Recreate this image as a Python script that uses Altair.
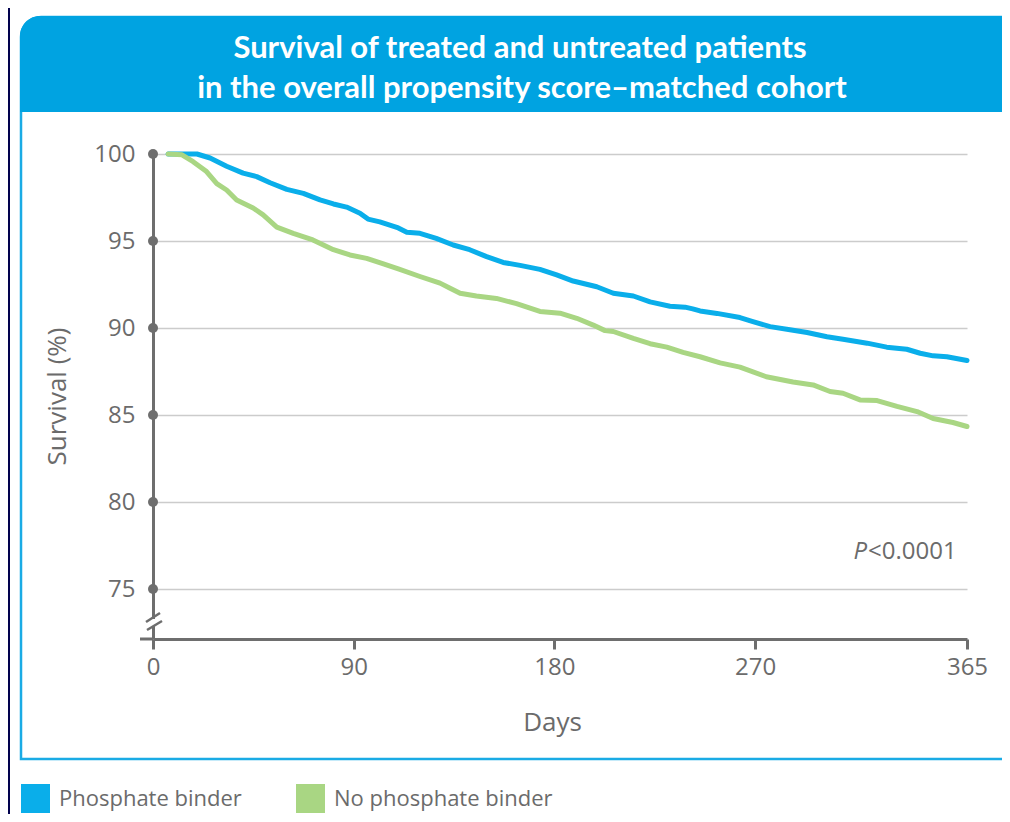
import altair as alt
import pandas as pd

# ---------------- data ----------------
series_names = ["Phosphate binder", "No phosphate binder"]
series_colors = ["#0AAEEA", "#A9D683"]

days_pb = [6.8, 19.7, 25.6, 33, 40.4, 46.5, 52.5, 60, 67.4, 74.9, 80.9, 86.8, 92.8, 96.4,
           101.7, 110, 113.8, 119.7, 127, 134.6, 142, 149.6, 157, 164.6, 173.5, 181, 188.4,
           199, 206.4, 215.4, 222.9, 231.8, 238.6, 242, 245.3, 252.9, 263.2, 269, 276.7,
           285.6, 293.3, 302.2, 309.4, 320.2, 329, 338, 344, 349.8, 356, 365]
surv_pb = [100, 100, 99.77, 99.3, 98.9, 98.7, 98.35, 97.97, 97.74, 97.36, 97.13, 96.95, 96.6,
           96.26, 96.1, 95.75, 95.5, 95.44, 95.15, 94.77, 94.5, 94.1, 93.77, 93.6, 93.37,
           93.05, 92.7, 92.37, 92.0, 91.84, 91.5, 91.25, 91.2, 91.1, 90.98, 90.84, 90.6,
           90.37, 90.08, 89.9, 89.74, 89.5, 89.36, 89.13, 88.9, 88.78, 88.55, 88.4, 88.35, 88.13]

days_npb = [6.8, 13, 18, 24, 28.6, 33, 37.5, 44.9, 49.4, 55.5, 62.9, 71.7, 80.9, 88.3, 95.8,
            103, 110, 119.7, 128.7, 133, 137.7, 145, 154, 163, 173.5, 182.5, 190, 197.4,
            202.7, 206.4, 215.4, 222.9, 230.4, 237.7, 245.3, 254.3, 263.2, 275, 287, 296,
            303.6, 309.4, 317, 324.7, 333.6, 342.6, 349.8, 358.7, 365]
surv_npb = [100, 99.95, 99.56, 98.99, 98.3, 97.93, 97.36, 96.9, 96.5, 95.8, 95.44, 95.06, 94.5,
            94.2, 94.0, 93.7, 93.4, 92.96, 92.58, 92.3, 92.0, 91.84, 91.7, 91.4, 90.95, 90.85,
            90.56, 90.17, 89.85, 89.8, 89.4, 89.1, 88.9, 88.6, 88.35, 88.0, 87.75, 87.2, 86.9,
            86.73, 86.35, 86.25, 85.87, 85.83, 85.5, 85.2, 84.8, 84.57, 84.34]

x_ticks = [0, 90, 180, 270, 365]
y_ticks = [75, 80, 85, 90, 95, 100]
title_lines = ["Survival of treated and untreated patients",
               "in the overall propensity score\u2013matched cohort"]
x_title = "Days"
y_title = "Survival (%)"
p_italic = "P"
p_rest = "<0.0001"

# ---------------- styling ----------------
W, H = 814, 485
GREY = "#6e6e6e"
TXT = "#6b6b6b"
BAR_BLUE = "#00A3E1"
FRAME_BLUE = "#1AABE5"
NAVY = "#02024E"
FONT = "Open Sans"

lines_df = pd.concat([
    pd.DataFrame({"day": days_pb, "surv": surv_pb, "series": series_names[0]}),
    pd.DataFrame({"day": days_npb, "surv": surv_npb, "series": series_names[1]}),
], ignore_index=True)

x_scale = alt.Scale(domain=[0, 365], nice=False, zero=False)
y_scale = alt.Scale(domain=[72.13, 100], nice=False, zero=False)

x_axis = alt.Axis(
    values=x_ticks, title=x_title, grid=False, domainColor=GREY, domainWidth=3,
    tickColor=GREY, tickWidth=3, tickSize=10, labelPadding=6, labelFont=FONT,
    labelFontSize=24, labelColor=TXT, labelFlush=False, titleFont=FONT, titleFontSize=26,
    titleFontWeight="normal", titleColor=TXT, titleX=399, titleY=83,
    titleBaseline="middle", zindex=0)
y_axis = alt.Axis(
    values=y_ticks, title=y_title, grid=True, gridColor="#cccccc", gridWidth=1.5,
    domainColor=GREY, domainWidth=3, ticks=False, labelPadding=18, labelFont=FONT,
    labelFontSize=24, labelColor=TXT, titleFont=FONT, titleFontSize=26,
    titleFontWeight="normal", titleColor=TXT, titleX=-96, titleY=242,
    titleBaseline="middle", zindex=0)


def xenc():
    return alt.X("day:Q", scale=x_scale, axis=x_axis)


def yenc():
    return alt.Y("surv:Q", scale=y_scale, axis=y_axis)


one = pd.DataFrame({"a": [0]})

# decorations
navy_strip = alt.Chart(one).mark_rect(color=NAVY).encode(
    x=alt.value(-146), x2=alt.value(-143), y=alt.value(-150), y2=alt.value(670))
frame = alt.Chart(one).mark_rect(fill="transparent", stroke=FRAME_BLUE, strokeWidth=2.5,
                                 cornerRadiusTopLeft=20).encode(
    x=alt.value(-132), x2=alt.value(880), y=alt.value(-137), y2=alt.value(605))
title_bar = alt.Chart(one).mark_rect(color=BAR_BLUE, cornerRadiusTopLeft=20).encode(
    x=alt.value(-133), x2=alt.value(880), y=alt.value(-138), y2=alt.value(-42))
title1 = alt.Chart(one).mark_text(font="Lato", fontWeight="bold", fontSize=31, color="white",
                                  align="center", baseline="alphabetic").encode(
    x=alt.value(367), y=alt.value(-96), text=alt.value(title_lines[0]))
title2 = alt.Chart(one).mark_text(font="Lato", fontWeight="bold", fontSize=31, color="white",
                                  align="center", baseline="alphabetic").encode(
    x=alt.value(369), y=alt.value(-56), text=alt.value(title_lines[1]))

# legend source (invisible squares, visible legend symbols)
legend_df = pd.DataFrame({"series": series_names, "day": [days_pb[0], days_npb[0]],
                          "surv": [surv_pb[0], surv_npb[0]]})
legend_layer = alt.Chart(legend_df).mark_square(opacity=0, size=841).encode(
    x=xenc(), y=yenc(),
    color=alt.Color("series:N", scale=alt.Scale(domain=series_names, range=series_colors),
                    legend=alt.Legend(
                        orient="none", legendX=-132, legendY=630, direction="horizontal",
                        title=None, symbolType="square", symbolSize=841, symbolOpacity=1,
                        symbolStrokeWidth=0, labelFont=FONT, labelFontSize=22,
                        labelColor=TXT, labelOffset=9, labelLimit=400, columnPadding=54,
                        padding=0)),
)

lines = alt.Chart(lines_df).mark_line(strokeWidth=5, strokeCap="round", strokeJoin="round").encode(
    x=xenc(), y=yenc(),
    stroke=alt.Stroke("series:N", scale=alt.Scale(domain=series_names, range=series_colors),
                      legend=None),
    order=alt.Order("series:N", sort="ascending"),
)

dots_df = pd.DataFrame({"day": [0] * len(y_ticks), "surv": y_ticks})
dots = alt.Chart(dots_df).mark_circle(size=100, color=GREY, opacity=1).encode(
    x=xenc(), y=yenc())

x_ext = alt.Chart(one).mark_rule(color=GREY, strokeWidth=3).encode(
    x=alt.value(-13), x2=alt.value(0), y=alt.value(H))
gap = alt.Chart(one).mark_rule(color="white", strokeWidth=6).encode(
    x=alt.value(0), y=alt.value(465), y2=alt.value(472))
slash1 = alt.Chart(one).mark_rule(color=GREY, strokeWidth=2.5).encode(
    x=alt.value(-7), x2=alt.value(7), y=alt.value(468), y2=alt.value(459))
slash2 = alt.Chart(one).mark_rule(color=GREY, strokeWidth=2.5).encode(
    x=alt.value(-6), x2=alt.value(9), y=alt.value(476), y2=alt.value(467))

p1 = alt.Chart(one).mark_text(font=FONT, fontSize=24, fontStyle="italic", color=TXT,
                              align="right", baseline="alphabetic").encode(
    x=alt.value(714), y=alt.value(405), text=alt.value(p_italic))
p2 = alt.Chart(one).mark_text(font=FONT, fontSize=24, color=TXT,
                              align="left", baseline="alphabetic").encode(
    x=alt.value(715), y=alt.value(405), text=alt.value(p_rest))

chart = alt.layer(
    navy_strip, frame, title_bar, title1, title2, legend_layer, lines, dots,
    x_ext, gap, slash1, slash2, p1, p2
).properties(
    width=W, height=H,
    autosize=alt.AutoSizeParams(type="none"),
    padding={"left": 145, "top": 146, "right": 35, "bottom": 175},
    background="white",
).configure_view(strokeWidth=0)

chart.save("out.html", embed_options={"renderer": "svg", "actions": False})
